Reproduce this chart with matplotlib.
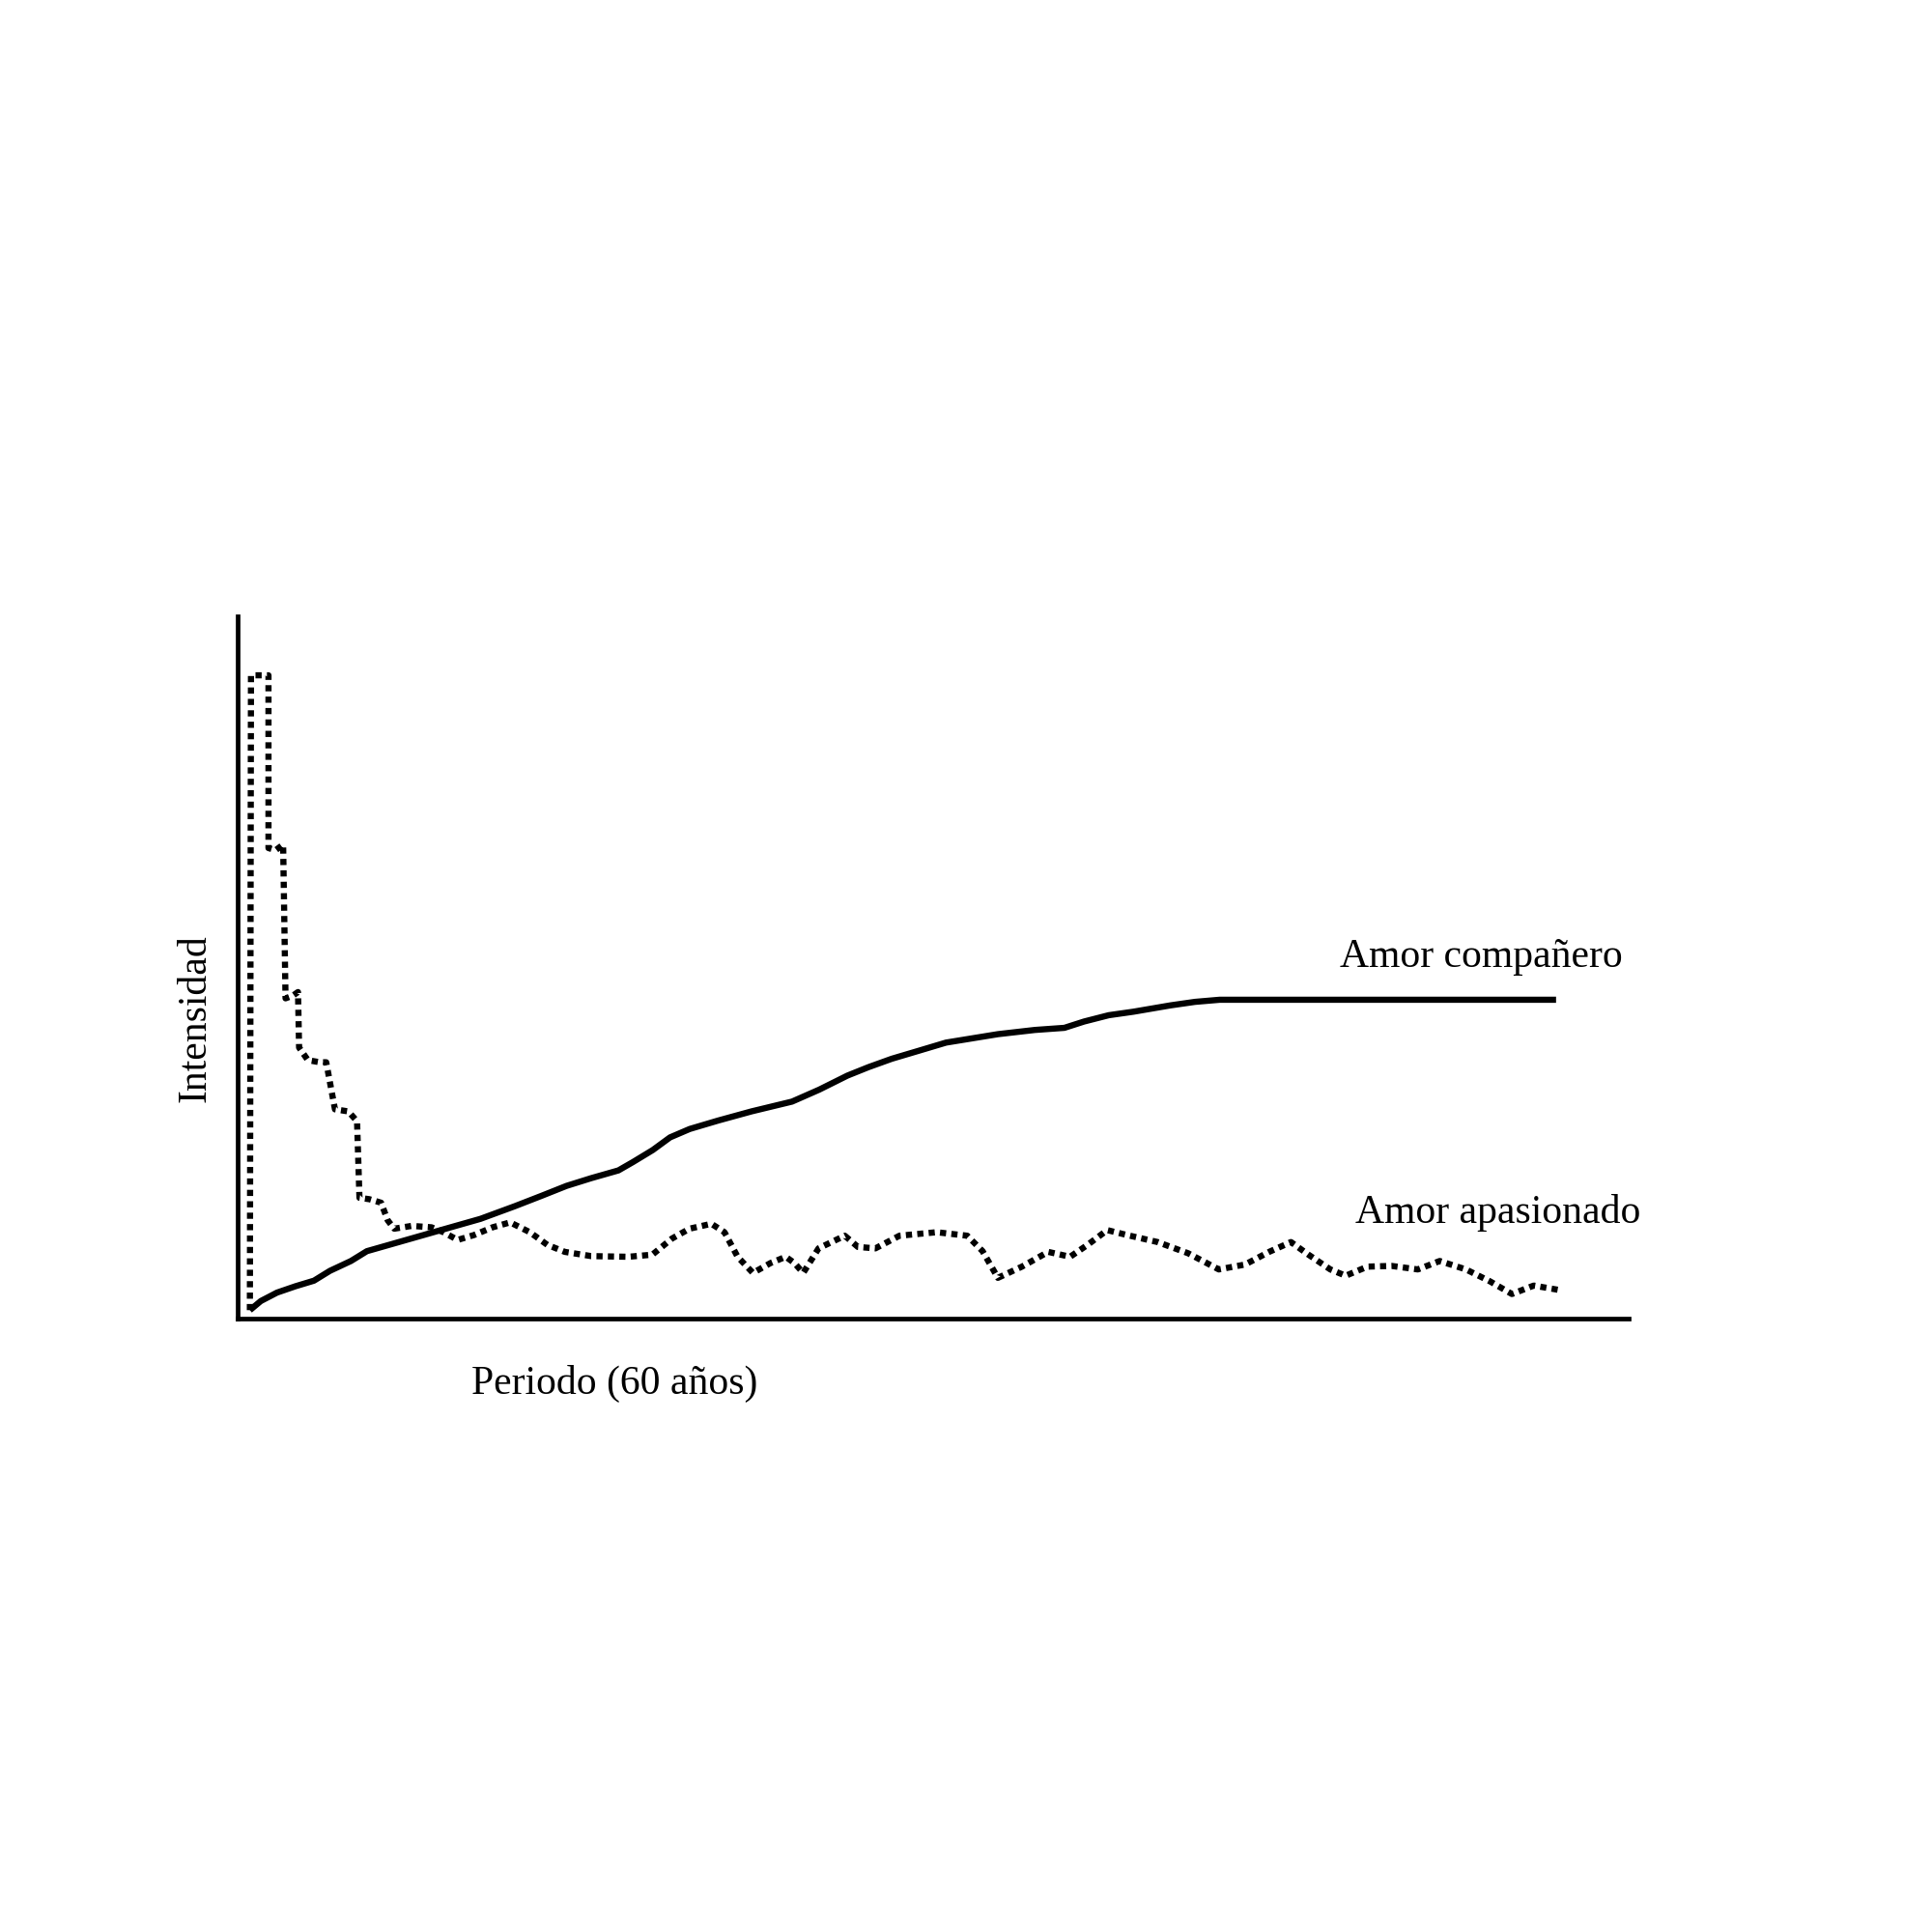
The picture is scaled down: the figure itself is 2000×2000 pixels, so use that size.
import matplotlib
matplotlib.use("Agg")
from matplotlib import pyplot as plt

# Amor apasionado (linea punteada) - x en años, y intensidad (0-100)
pasion_x = [0, 0.05, 0.85, 0.85, 1.18, 1.52, 1.63, 1.97, 2.2, 2.25, 2.65, 3.2, 3.49,
            3.89, 4.5, 4.9, 5.01, 5.46, 6.0, 6.3, 6.6, 7.4, 8.3, 8.85, 9.5, 10.25,
            11.1, 11.9, 12.8, 13.6, 14.4, 15.6, 17.3, 18.4, 19.3, 20.1, 21.1, 21.7,
            22.3, 23.0, 23.8, 24.5, 24.9, 25.3, 26.0, 27.2, 27.8, 28.6, 29.7, 31.4,
            32.8, 33.5, 34.2, 35.3, 36.5, 37.5, 38.3, 39.2, 40.1, 41.5, 42.9, 44.3,
            45.5, 46.6, 47.6, 48.4, 49.4, 50.1, 51.1, 52.2, 53.4, 54.4, 55.6, 56.7,
            57.7, 58.7, 60.0]
pasion_y = [1.2, 91.6, 91.6, 67.0, 66.7, 67.5, 45.6, 46.0, 46.5, 38.6, 36.8, 36.5, 36.5,
            29.8, 29.5, 28.1, 17.2, 17.0, 16.5, 14.0, 12.8, 13.2, 13.0, 12.3, 11.2, 11.9,
            13.0, 13.7, 12.3, 10.5, 9.5, 8.9, 8.8, 9.1, 11.4, 12.8, 13.5, 12.3,
            8.8, 6.5, 7.9, 8.8, 7.9, 6.5, 10.0, 11.8, 10.2, 10.0, 11.8, 12.3,
            11.8, 9.6, 5.8, 7.4, 9.5, 8.8, 10.5, 12.6, 11.9, 10.9, 9.3, 7.0,
            7.7, 9.5, 10.9, 9.1, 7.0, 6.1, 7.4, 7.5, 7.0, 8.2, 7.0, 5.3,
            3.5, 4.7, 4.0]

# Amor compañero (linea continua)
companero_x = [0, 0.5, 1.24, 2.08, 2.93, 3.66, 4.62, 5.35, 6.59, 8.73, 10.54, 12.11,
               13.35, 14.48, 15.61, 16.85, 17.52, 18.42, 19.21, 20.11, 21.41, 22.93,
               24.79, 26.03, 27.32, 28.28, 29.35, 30.54, 31.83, 34.2, 35.89, 37.24,
               38.14, 39.27, 40.4, 42.09, 43.21, 44.34, 59.72]
companero_y = [1.2, 2.5, 3.7, 4.6, 5.4, 6.8, 8.2, 9.6, 10.7, 12.6, 14.2, 16.0,
               17.5, 18.9, 20.0, 21.1, 22.3, 24.0, 25.8, 27.0, 28.2, 29.5,
               30.9, 32.6, 34.6, 35.8, 37.0, 38.1, 39.3, 40.5, 41.1, 41.4,
               42.3, 43.2, 43.7, 44.6, 45.1, 45.4, 45.4]

fuente = "Liberation Serif"

fig = plt.figure(figsize=(20, 20), dpi=100)
ax = fig.add_axes([0.123, 0.3175, 0.72, 0.3635])

ax.plot(companero_x, companero_y, color="black", lw=4.6,
        solid_capstyle="butt", solid_joinstyle="round")
ax.plot(pasion_x, pasion_y, color="black", lw=4.6, linestyle=(0, (1.0, 0.85)))

ax.set_xlim(-0.56, 63.04)
ax.set_ylim(0, 100)
for lado in ["top", "right"]:
    ax.spines[lado].set_visible(False)
for lado in ["left", "bottom"]:
    ax.spines[lado].set_linewidth(3.4)
ax.set_xticks([])
ax.set_yticks([])

fig.text(0.6934, 0.4997, "Amor compañero", family=fuente, fontsize=30, va="baseline")
fig.text(0.7014, 0.367, "Amor apasionado", family=fuente, fontsize=30, va="baseline")
fig.text(0.244, 0.2785, "Periodo (60 años)", family=fuente, fontsize=30, va="baseline")
fig.text(0.101, 0.473, "Intensidad", family=fuente, fontsize=30, rotation=90,
         ha="center", va="center")

fig.savefig("out.png", dpi=100, facecolor="white")
